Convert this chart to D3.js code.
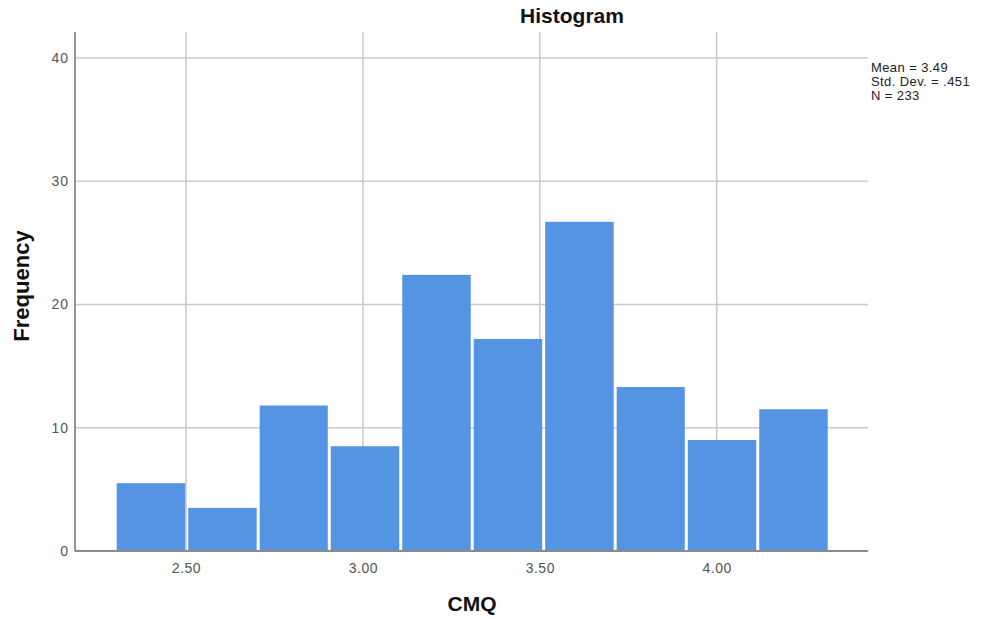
<!DOCTYPE html>
<html>
<head>
<meta charset="utf-8">
<script src="https://cdn.jsdelivr.net/npm/d3@7/dist/d3.min.js"></script>
<style>
  html, body { margin: 0; padding: 0; background: #fff; }
  svg { display: block; }
  text { font-family: "Liberation Sans", Arial, sans-serif; }
</style>
</head>
<body>
<svg id="chart" width="993" height="619"></svg>
<script>
// Histogram of CMQ scores: bin edges and frequencies
const binEdges = [2.300, 2.502, 2.704, 2.905, 3.107, 3.309, 3.511, 3.713, 3.914, 4.116, 4.318];
const frequencies = [5.5, 3.5, 11.8, 8.5, 22.4, 17.2, 26.7, 13.3, 9.0, 11.5];
const xTicks = [2.5, 3.0, 3.5, 4.0];
const xTickLabels = ["2.50", "3.00", "3.50", "4.00"];
const yTicks = [0, 10, 20, 30, 40];
const statsLines = ["Mean = 3.49", "Std. Dev. = .451", "N = 233"];

const svg = d3.select("#chart");

const plot = { left: 75, right: 868, top: 32, bottom: 551 };

const x = d3.scaleLinear().domain([2.1863, 4.4276]).range([plot.left, plot.right]);
const y = d3.scaleLinear().domain([0, 42.1]).range([plot.bottom, plot.top]);

const bins = frequencies.map((f, i) => ({ x0: binEdges[i], x1: binEdges[i + 1], f }));

// grid lines
const grid = svg.append("g");
grid.selectAll("line.h").data(yTicks.filter(d => d > 0)).join("line")
  .attr("x1", plot.left).attr("x2", plot.right)
  .attr("y1", d => y(d)).attr("y2", d => y(d))
  .attr("stroke", "#c9c9c9").attr("stroke-width", 1.5);
grid.selectAll("line.v").data(xTicks).join("line")
  .attr("x1", d => x(d)).attr("x2", d => x(d))
  .attr("y1", plot.top).attr("y2", plot.bottom)
  .attr("stroke", "#c9c9c9").attr("stroke-width", 1.5);

// bars
svg.append("g").selectAll("rect").data(bins).join("rect")
  .attr("x", d => x(d.x0) + 1.5)
  .attr("width", d => x(d.x1) - x(d.x0) - 3)
  .attr("y", d => y(d.f))
  .attr("height", d => y(0) - y(d.f))
  .attr("fill", "#5593e3");

// axes
const yAxis = d3.axisLeft(y).tickValues(yTicks).tickSize(0).tickPadding(6).tickFormat(d3.format("d"));
const yg = svg.append("g").attr("transform", `translate(${plot.left},0)`).call(yAxis);
yg.select(".domain").remove();
yg.selectAll("text").attr("font-size", 14).attr("fill", "#555").attr("letter-spacing", "1px")
  .attr("font-family", "'Liberation Sans', Arial, sans-serif");

const xAxis = d3.axisBottom(x).tickValues(xTicks).tickSize(0).tickPadding(12)
  .tickFormat((d, i) => xTickLabels[i]);
const xg = svg.append("g").attr("transform", `translate(0,${plot.bottom})`).call(xAxis);
xg.select(".domain").remove();
xg.selectAll("text").attr("font-size", 14).attr("fill", "#555").attr("letter-spacing", "0.5px")
  .attr("font-family", "'Liberation Sans', Arial, sans-serif");

svg.append("line")
  .attr("x1", plot.left).attr("x2", plot.left)
  .attr("y1", plot.top).attr("y2", plot.bottom)
  .attr("stroke", "#8a8a8a").attr("stroke-width", 1.8);
svg.append("line")
  .attr("x1", plot.left).attr("x2", plot.right)
  .attr("y1", plot.bottom).attr("y2", plot.bottom)
  .attr("stroke", "#8a8a8a").attr("stroke-width", 1.8);

// titles
svg.append("text").attr("x", 572).attr("y", 23).attr("text-anchor", "middle")
  .attr("font-size", 21).attr("font-weight", "bold").attr("fill", "#111").text("Histogram");

svg.append("text").attr("x", 472).attr("y", 611).attr("text-anchor", "middle")
  .attr("font-size", 21).attr("font-weight", "bold").attr("fill", "#111").text("CMQ");

svg.append("text")
  .attr("transform", "translate(29,286) rotate(-90)")
  .attr("text-anchor", "middle")
  .attr("font-size", 22).attr("font-weight", "bold").attr("fill", "#111").text("Frequency");

// summary statistics
svg.append("g").selectAll("text").data(statsLines).join("text")
  .attr("x", 871).attr("y", (d, i) => 72 + i * 14)
  .attr("font-size", 13).attr("letter-spacing", "0.4px").attr("fill", "#222").text(d => d);
</script>
</body>
</html>
